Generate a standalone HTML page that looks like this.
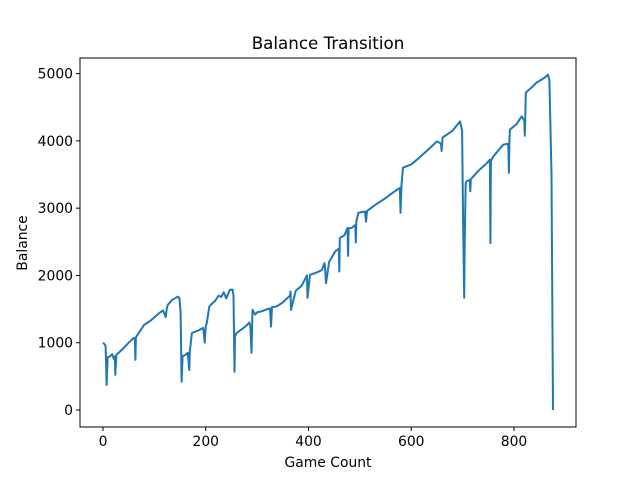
<!DOCTYPE html>
<html><head><meta charset="utf-8"><style>
body{margin:0;background:#fff;}
svg{display:block;font-family:"DejaVu Sans","Liberation Sans",sans-serif;}
</style></head><body>
<svg id="chart" width="640" height="480" viewBox="0 0 640 480">
<rect width="640" height="480" fill="#fff"/>
<text x="328" y="49" font-size="16.7" text-anchor="middle">Balance Transition</text>
<text x="328" y="467" font-size="13.9" text-anchor="middle">Game Count</text>
<text x="27" y="243" font-size="13.9" text-anchor="middle" transform="rotate(-90 27 243)">Balance</text>
<g id="xticks"></g>
<g id="yticks"></g>
<polyline id="line" fill="none" stroke="#1f77b4" stroke-width="2" stroke-linejoin="round"/>
<rect x="80" y="58" width="496" height="369" fill="none" stroke="#000" stroke-width="1"/>
</svg>
<script>
const xTicks=[0,200,400,600,800];
const yTicks=[0,1000,2000,3000,4000,5000];
const games=[0,3,5,6,7,9,14,18,21,23,24,26,32,40,50,60,62,63,64,70,80,91,100,110,117,122,124,126,135,146,149,151,153,155,160,165,168,169,173,185,195,198,200,202,207,212,218,225,230,235,240,247,252,254,256,257,260,270,277,285,287,289,291,296,300,310,320,325,327,329,338,350,364,365,366,375,387,396,397,398,403,415,426,431,432,434,440,452,459,460,461,470,476,477,478,484,491,492,493,497,510,512,514,530,550,572,578,579,581,584,600,611,630,650,658,659,661,680,695,699,701,703,704,706,708,714,715,716,730,747,753,754,755,757,760,779,789,790,791,792,805,815,820,821,822,823,835,844,860,866,869,873,876];
const balances=[1000,980,950,700,372,780,800,830,760,793,521,820,860,920,1000,1071,1060,744,1080,1150,1265,1320,1380,1443,1480,1380,1500,1560,1640,1686,1660,1450,421,800,818,850,595,870,1145,1180,1220,1000,1250,1290,1538,1580,1620,1700,1680,1750,1660,1786,1790,1700,570,1100,1145,1200,1240,1300,1240,850,1488,1420,1450,1470,1500,1510,1240,1530,1538,1600,1700,1761,1488,1770,1850,1984,2000,1667,2009,2040,2080,2183,2150,1885,2200,2356,2400,2059,2555,2600,2706,2291,2700,2706,2750,2490,2800,2929,2950,2800,2960,3050,3150,3274,3300,2929,3350,3601,3650,3720,3850,3993,3960,3850,4050,4150,4290,4150,2800,1667,2500,3373,3400,3420,3250,3430,3550,3670,3720,2480,3700,3730,3770,3943,3960,3525,3980,4167,4250,4365,4300,4077,4350,4717,4800,4866,4940,4985,4900,3500,0];
const L=80,R=576,T=58,B=427;
const xs=v=>103+v*(514-103)/800;
const ys=v=>410-v*(410-73.6)/5000;
const NS='http://www.w3.org/2000/svg';
const xg=document.getElementById('xticks'),yg=document.getElementById('yticks');
xTicks.forEach(t=>{
 const l=document.createElementNS(NS,'line');
 l.setAttribute('x1',xs(t));l.setAttribute('x2',xs(t));l.setAttribute('y1',B);l.setAttribute('y2',B+4);l.setAttribute('stroke','#000');
 
 
 xg.appendChild(l);
 const tx=document.createElementNS(NS,'text');
 tx.setAttribute('x',xs(t));tx.setAttribute('y',B+19);tx.setAttribute('font-size','13.9');tx.setAttribute('text-anchor','middle');
 tx.textContent=t;
 
 
 xg.appendChild(tx);
});
yTicks.forEach(t=>{
 const l=document.createElementNS(NS,'line');
 l.setAttribute('x1',L-4);l.setAttribute('x2',L);l.setAttribute('y1',ys(t));l.setAttribute('y2',ys(t));l.setAttribute('stroke','#000');
 
 
 yg.appendChild(l);
 const tx=document.createElementNS(NS,'text');
 tx.setAttribute('x',L-7);tx.setAttribute('y',ys(t)+5);tx.setAttribute('font-size','13.9');tx.setAttribute('text-anchor','end');
 tx.textContent=t;
 
 
 yg.appendChild(tx);
});
document.getElementById('line').setAttribute('points',games.map((g,i)=>xs(g).toFixed(1)+','+ys(balances[i]).toFixed(1)).join(' '));
</script>
</body></html>
